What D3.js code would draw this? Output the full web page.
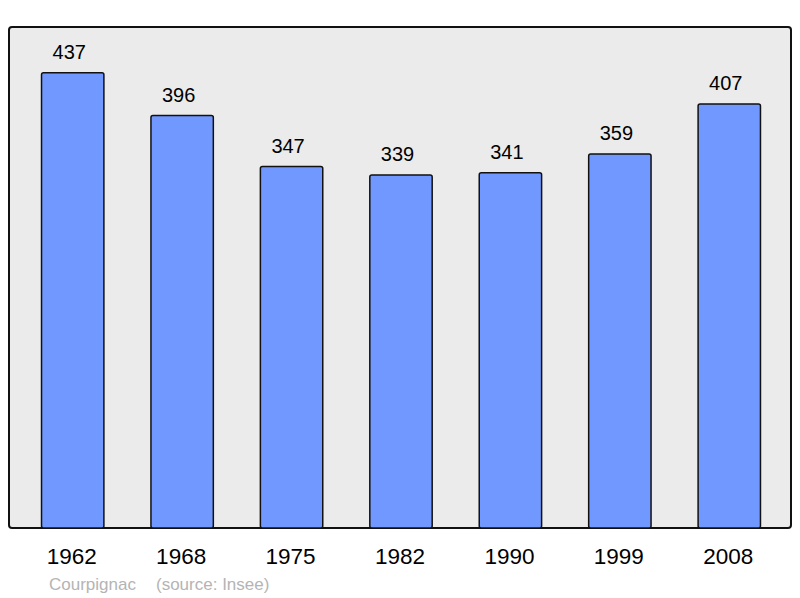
<!DOCTYPE html>
<html>
<head>
<meta charset="utf-8">
<script src="https://cdn.jsdelivr.net/npm/d3@7/dist/d3.min.js"></script>
<style>
  body { margin: 0; background: #fff; }
  text { font-family: "Liberation Sans", Arial, sans-serif; }
</style>
</head>
<body>
<script>
// Population data
var years = ["1962", "1968", "1975", "1982", "1990", "1999", "2008"];
var population = [437, 396, 347, 339, 341, 359, 407];
var commune = "Courpignac";
var source = "(source: Insee)";

var width = 800, height = 598;
var frame = { left: 9, top: 27, right: 791, bottom: 528 };

var svg = d3.select("body").append("svg")
    .attr("width", width)
    .attr("height", height);

// Plot background
svg.append("rect")
    .attr("x", frame.left)
    .attr("y", frame.top)
    .attr("width", frame.right - frame.left)
    .attr("height", frame.bottom - frame.top)
    .attr("rx", 3)
    .attr("fill", "#ebebeb")
    .attr("stroke", "#111")
    .attr("stroke-width", 2);

var xScale = d3.scaleBand()
    .domain(years)
    .range([18, 784])
    .paddingInner(0.43)
    .paddingOuter(0.215);

var yScale = d3.scaleLinear()
    .domain([0, 481])
    .range([frame.bottom, frame.top]);

var data = years.map(function (y, i) { return { year: y, value: population[i] }; });

svg.selectAll(".bar")
    .data(data)
    .enter().append("rect")
    .attr("class", "bar")
    .attr("x", function (d) { return xScale(d.year); })
    .attr("y", function (d) { return yScale(d.value); })
    .attr("width", xScale.bandwidth())
    .attr("height", function (d) { return frame.bottom - yScale(d.value); })
    .attr("rx", 2)
    .attr("fill", "#7098ff")
    .attr("stroke", "#111")
    .attr("stroke-width", 1.5);

// Value labels above bars
svg.selectAll(".val")
    .data(data)
    .enter().append("text")
    .attr("class", "val")
    .attr("x", function (d) { return xScale(d.year) + xScale.bandwidth() / 2 - 3.5; })
    .attr("y", function (d) { return yScale(d.value) - 14; })
    .attr("text-anchor", "middle")
    .attr("font-size", 20)
    .attr("fill", "#000")
    .text(function (d) { return d.value; });

// Year axis labels
var xAxis = svg.append("g")
    .attr("transform", "translate(0," + frame.bottom + ")")
    .call(d3.axisBottom(xScale).tickSize(0).tickPadding(0));
xAxis.select(".domain").remove();
xAxis.selectAll("text")
    .attr("dy", null)
    .attr("x", -1)
    .attr("y", 36)
    .attr("font-size", 22.5)
    .attr("font-family", "Liberation Sans, Arial, sans-serif")
    .attr("fill", "#000");

// Footer
svg.append("text")
    .attr("x", 49)
    .attr("y", 590)
    .attr("font-size", 17)
    .attr("fill", "#b4b4b4")
    .text(commune);
svg.append("text")
    .attr("x", 156)
    .attr("y", 590)
    .attr("font-size", 17)
    .attr("fill", "#b4b4b4")
    .text(source);
</script>
</body>
</html>
